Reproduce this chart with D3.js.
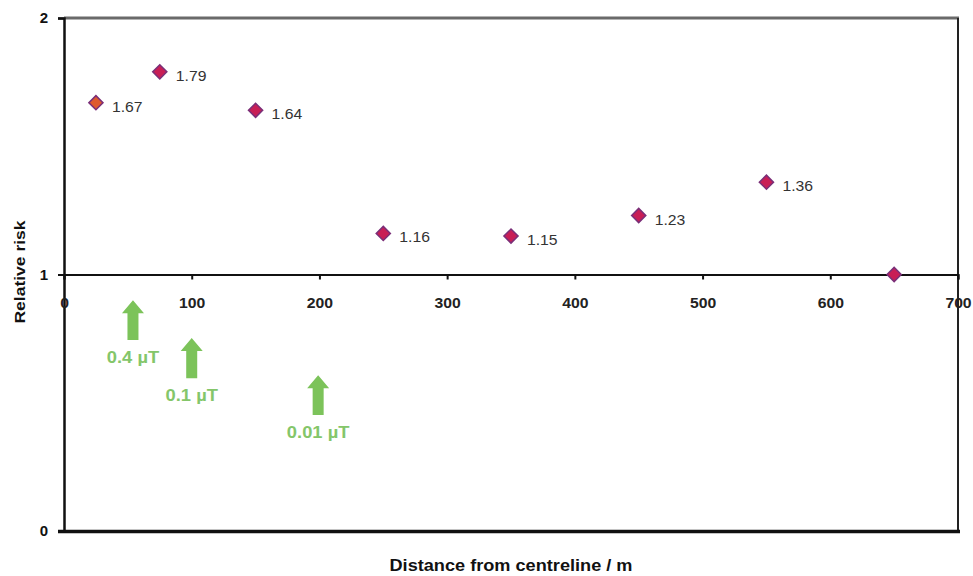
<!DOCTYPE html>
<html>
<head>
<meta charset="utf-8">
<script src="https://cdn.jsdelivr.net/npm/d3@7"></script>
<style>
  html, body { margin: 0; padding: 0; background: #fff; }
  svg { display: block; }
</style>
</head>
<body>
<svg id="chart" width="973" height="576"></svg>
<script>
// ---- data ----
const distances = [25, 75, 150, 250, 350, 450, 550, 650];
const relativeRisk = [1.67, 1.79, 1.64, 1.16, 1.15, 1.23, 1.36, 1.0];
const pointLabels = ["1.67", "1.79", "1.64", "1.16", "1.15", "1.23", "1.36", ""];
const xTicks = [0, 100, 200, 300, 400, 500, 600, 700];
const yTicks = [0, 1, 2];
const arrowX = [54, 100, 199];
const arrowTip = [0.90, 0.752, 0.607];
const arrowBase = [0.745, 0.596, 0.452];
const arrowLabels = ["0.4 \u00b5T", "0.1 \u00b5T", "0.01 \u00b5T"];
const xTitle = "Distance from centreline / m";
const yTitle = "Relative risk";

// ---- layout ----
const svg = d3.select("#chart");
const mLeft = 64, mRight = 958, mTop = 18, mBottom = 531;
const x = d3.scaleLinear().domain([0, 700]).range([mLeft, mRight]);
const y = d3.scaleLinear().domain([0, 2]).range([mBottom, mTop]);
const font = "Liberation Sans, Arial, sans-serif";

// plot frame: top (grey), right
svg.append("line").attr("x1", mLeft).attr("x2", mRight + 1).attr("y1", y(2)).attr("y2", y(2))
  .attr("stroke", "#6a6a6a").attr("stroke-width", 3);
svg.append("line").attr("x1", mRight).attr("x2", mRight).attr("y1", y(2)).attr("y2", y(0))
  .attr("stroke", "#222").attr("stroke-width", 2);
// bottom thick line
svg.append("line").attr("x1", mLeft - 6).attr("x2", mRight + 2).attr("y1", y(0) + 0.5).attr("y2", y(0) + 0.5)
  .attr("stroke", "#111").attr("stroke-width", 3.5);

// y axis
const yAxis = d3.axisLeft(y).tickValues(yTicks).tickSize(6).tickPadding(10).tickFormat(d3.format("d"));
const gy = svg.append("g").attr("transform", `translate(${mLeft},0)`).call(yAxis);
gy.select(".domain").attr("stroke", "#111").attr("stroke-width", 2.5);
gy.selectAll(".tick line").attr("stroke", "#111").attr("stroke-width", 2);
gy.selectAll(".tick text").attr("font-family", font).attr("font-weight", "bold")
  .attr("font-size", 15).attr("fill", "#111");

// x axis at y = 1
const xAxis = d3.axisBottom(x).tickValues(xTicks).tickSize(5).tickPadding(18).tickFormat(d3.format("d"));
const gx = svg.append("g").attr("transform", `translate(0,${y(1)})`).call(xAxis);
gx.select(".domain").attr("stroke", "#111").attr("stroke-width", 2);
gx.selectAll(".tick line").attr("stroke", "#111").attr("stroke-width", 2);
gx.selectAll(".tick text").attr("font-family", font).attr("font-weight", "bold")
  .attr("font-size", 15).attr("fill", "#222").attr("transform", "scale(1.05,1)");

// axis titles
svg.append("text").attr("x", (mLeft + mRight) / 2).attr("y", 571)
  .attr("text-anchor", "middle").attr("font-family", font).attr("font-weight", "bold")
  .attr("font-size", 16.5).attr("fill", "#111")
  .attr("textLength", 243).attr("lengthAdjust", "spacingAndGlyphs").text(xTitle);
svg.append("text").attr("transform", `translate(25,272) rotate(-90)`)
  .attr("text-anchor", "middle").attr("font-family", font).attr("font-weight", "bold")
  .attr("font-size", 15).attr("fill", "#111")
  .attr("textLength", 103).attr("lengthAdjust", "spacingAndGlyphs").text(yTitle);

// arrows
const arrows = svg.append("g");
arrowX.forEach((ax, i) => {
  const cx = x(ax), yt = y(arrowTip[i]), yb = y(arrowBase[i]);
  const hw = 11, sw = 5.5, hh = 13;
  const p = [[cx, yt], [cx + hw, yt + hh], [cx + sw, yt + hh], [cx + sw, yb], [cx - sw, yb],
             [cx - sw, yt + hh], [cx - hw, yt + hh]];
  arrows.append("path").attr("d", d3.line()(p) + "Z").attr("fill", "#7cc35a");
  arrows.append("text").attr("transform", `translate(${cx},${yb + 23}) scale(1.08,1)`)
    .attr("text-anchor", "middle")
    .attr("font-family", font).attr("font-weight", "bold").attr("font-size", 17)
    .attr("fill", "#84c66a").text(arrowLabels[i]);
});

// points
const pts = svg.append("g");
pts.selectAll("path").data(distances).join("path")
  .attr("transform", (d, i) => `translate(${x(d)},${y(relativeRisk[i])}) rotate(45)`)
  .attr("d", d3.symbol().type(d3.symbolSquare).size(100))
  .attr("fill", (d, i) => i === 0 ? "#de5a2e" : "#c81e56")
  .attr("stroke", "#7a2f78").attr("stroke-width", 1.5);

pts.selectAll("text").data(distances).join("text")
  .attr("transform", (d, i) => `translate(${x(d) + 16},${y(relativeRisk[i]) + 9}) scale(1.05,1)`)
  .attr("font-family", font).attr("font-size", 15).attr("fill", "#333")
  .text((d, i) => pointLabels[i]);
</script>
</body>
</html>
